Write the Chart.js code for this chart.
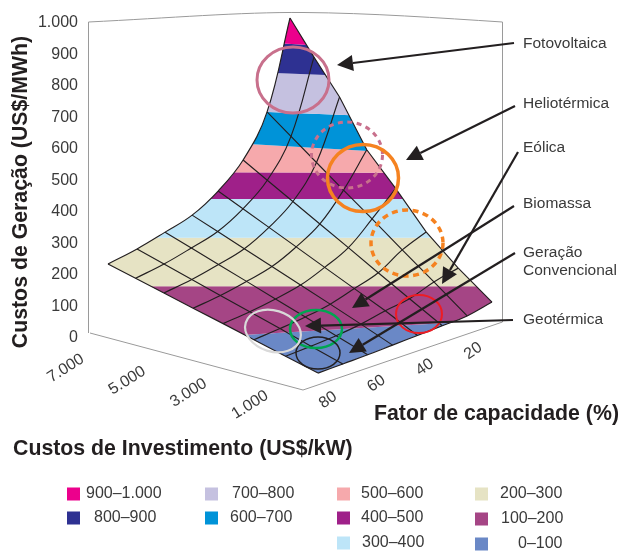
<!DOCTYPE html>
<html><head><meta charset="utf-8">
<style>html,body{margin:0;padding:0;background:#fff}canvas{display:block}</style>
<script src="https://cdn.jsdelivr.net/npm/chart.js@4"></script>
</head><body><canvas id="c" width="622" height="552"></canvas>
<script>
// --- data ---
const capacityFactors = [80, 70, 60, 50, 40, 30, 20, 10];
const investments = [0, 1000, 2000, 3000, 4000, 5000, 6000, 7000];
const costAt80 = [20, 56, 91, 124, 154, 184, 211, 237];
const costAt70 = [23, 63, 102, 138, 172, 204, 235, 264];
const costAt60 = [26, 71, 115, 156, 195, 231, 266, 298];
const costAt50 = [31, 84, 133, 178, 221, 261, 299, 333];
const costAt40 = [36, 104, 162, 216, 267, 314, 357, 397];
const costAt30 = [41, 119, 192, 262, 326, 385, 439, 489];
const costAt20 = [47, 153, 251, 345, 430, 510, 584, 651];
const costAt10 = [69, 175, 290, 435, 560, 743, 873, 1000];
const costRows = [costAt80, costAt70, costAt60, costAt50, costAt40, costAt30, costAt20, costAt10];

const bandLabels = ['0–100','100–200','200–300','300–400','400–500','500–600','600–700','700–800','800–900','900–1.000'];
const bandColors = ['#6a88c6','#a54585','#e6e3c4','#bde5f8','#9f2089','#f6a9ac','#0093d8','#c5c1e0','#2e3192','#ec008c'];
// painted colour steps as they sit against the vertical axis (left and right end of each step)
const bandStepsLeft  = [-16, 164, 318, 441, 527, 642, 737, 862, 968];
const bandStepsRight = [ 56, 164, 318, 441, 524, 571, 690, 814, 895];

const costTicks = [0,100,200,300,400,500,600,700,800,900,1000];
const investmentTicks = [7000, 5000, 3000, 1000];
const capacityTicks = [80, 60, 40, 20];
const sourceLabels = ['Fotovoltaica','Heliotérmica','Eólica','Biomassa','Geração','Convencional','Geotérmica'];

// --- view: oblique projection of the 3D box onto the chart's two scales ---
const viewBow = {80:20,70:20,60:22,50:25,40:30,30:35,20:38,10:40};
function project(cf, inv, cost){
  const s = inv/7000, t = (80-cf)/70;
  const x = 318 - 210*s + 174*t + 8*s*t + 25*s*t*(1-t) - viewBow[cf]*s*(1-s);
  const yPx = 378 - 56*s - 59*t - cost*0.245;
  return {x, y:(338-yPx)/0.315};
}
const INK = '#231f20', TXT = '#3a3a3a', WALL = '#9a9a9a', FONT = '"Liberation Sans", Arial, sans-serif';

const datasets = [];
// colour bands
bandLabels.forEach((label,i)=>{
  const loL = i===0 ? -300 : bandStepsLeft[i-1], loR = i===0 ? -300 : bandStepsRight[i-1];
  const hiL = i===9 ? 1100 : bandStepsLeft[i],   hiR = i===9 ? 1100 : bandStepsRight[i];
  datasets.push({label, kind:'band', order:10, showLine:false, pointRadius:0, backgroundColor:bandColors[i], clip:false,
    data:[{x:108,y:loL},{x:492,y:loR},{x:492,y:hiR},{x:108,y:hiL}]});
});
// mesh: lines of constant capacity factor
capacityFactors.forEach((cf,r)=>{
  datasets.push({label:'FC '+cf, kind:'cf', cf, order:5, showLine:true, pointRadius:0, borderColor:INK, borderWidth:1.15, tension:0, clip:false,
    data:investments.map((inv,c)=>project(cf,inv,costRows[r][c]))});
});
// mesh: lines of constant investment
investments.forEach((inv,c)=>{
  datasets.push({label:'Inv '+inv, kind:'inv', inv, order:5, showLine:true, pointRadius:0, borderColor:INK, borderWidth:1.15, tension:0.4, clip:false,
    data:capacityFactors.map((cf,r)=>project(cf,inv,costRows[r][c]))});
});

function metaOf(chart, pred){
  const i = chart.data.datasets.findIndex(pred);
  const m = chart.getDatasetMeta(i);
  m.dataset.updateControlPoints(chart.chartArea,'x');
  return m.data;
}
function seg(ctx,a,b,fwd){
  if(a.cp2x===undefined||b.cp1x===undefined){ctx.lineTo(b.x,b.y);return;}
  if(fwd) ctx.bezierCurveTo(a.cp2x,a.cp2y,b.cp1x,b.cp1y,b.x,b.y);
  else ctx.bezierCurveTo(a.cp1x,a.cp1y,b.cp2x,b.cp2y,b.x,b.y);
}
function outline(chart,ctx){
  const left = metaOf(chart,d=>d.kind==='inv'&&d.inv===7000);
  const back = metaOf(chart,d=>d.kind==='cf'&&d.cf===10);
  const right= metaOf(chart,d=>d.kind==='inv'&&d.inv===0);
  const front= metaOf(chart,d=>d.kind==='cf'&&d.cf===80);
  ctx.beginPath();
  ctx.moveTo(left[0].x,left[0].y);
  for(let i=0;i<left.length-1;i++) seg(ctx,left[i],left[i+1],true);
  for(let i=back.length-1;i>0;i--) ctx.lineTo(back[i-1].x,back[i-1].y);
  for(let i=right.length-1;i>0;i--) seg(ctx,right[i],right[i-1],false);
  for(let i=0;i<front.length-1;i++) ctx.lineTo(front[i+1].x,front[i+1].y);
  ctx.closePath();
}

const surfacePlugin = {
  id:'surface',
  beforeDatasetsDraw(chart){
    const ctx = chart.ctx;
    ctx.save();
    outline(chart,ctx);
    ctx.clip();
    chart.data.datasets.forEach((d,i)=>{
      if(d.kind!=='band') return;
      const p = chart.getDatasetMeta(i).data;
      ctx.beginPath();
      p.forEach((e,k)=>k?ctx.lineTo(e.x,e.y):ctx.moveTo(e.x,e.y));
      ctx.closePath();
      ctx.fillStyle = d.backgroundColor;
      ctx.fill();
    });
    ctx.restore();
  }
};

function text(ctx,str,x,y,font,color,align,rot){
  ctx.save();
  ctx.translate(x,y);
  if(rot) ctx.rotate(rot);
  ctx.font = font; ctx.fillStyle = color; ctx.textAlign = align||'left'; ctx.textBaseline='middle';
  ctx.fillText(str,0,0);
  ctx.restore();
}
function ring(ctx,cx,cy,rx,ry,color,lw,dash,rot){
  ctx.save();
  ctx.beginPath();
  ctx.ellipse(cx,cy,rx,ry,rot||0,0,Math.PI*2);
  ctx.strokeStyle=color; ctx.lineWidth=lw; ctx.setLineDash(dash||[]);
  ctx.stroke();
  ctx.restore();
}
function arrow(ctx,x0,y0,x1,y1){
  const a = Math.atan2(y1-y0,x1-x0), L=16, W=8;
  const bx=x1-L*Math.cos(a), by=y1-L*Math.sin(a);
  ctx.save();
  ctx.strokeStyle=INK; ctx.fillStyle=INK; ctx.lineWidth=2.2;
  ctx.beginPath(); ctx.moveTo(x0,y0); ctx.lineTo(bx,by); ctx.stroke();
  ctx.beginPath(); ctx.moveTo(x1,y1);
  ctx.lineTo(bx+W*Math.sin(a),by-W*Math.cos(a));
  ctx.lineTo(bx-W*Math.sin(a),by+W*Math.cos(a));
  ctx.closePath(); ctx.fill();
  ctx.restore();
}

const decorPlugin = {
  id:'decor',
  beforeDatasetsDraw(chart){
    // walls and floor of the 3D box
    const ctx = chart.ctx;
    ctx.save();
    ctx.strokeStyle=WALL; ctx.lineWidth=1;
    ctx.beginPath();
    ctx.moveTo(88.5,333); ctx.lineTo(88.5,22);
    ctx.bezierCurveTo(170,18,240,12,303,12.5);
    ctx.bezierCurveTo(370,13,440,18,502.5,22);
    ctx.lineTo(502.5,322); ctx.lineTo(303,390); ctx.lineTo(90,333);
    ctx.stroke();
    ctx.restore();
  },
  afterDatasetsDraw(chart){
    const ctx = chart.ctx;
    const rose='#c8708c', orange='#f58220';
    ring(ctx,293,80,36,33,rose,3);
    ring(ctx,347,155,35.5,33,rose,3,[5,4.5]);
    ring(ctx,363,178,35.5,33.5,orange,3.5);
    ring(ctx,407,243,36,33,orange,3.5,[6,4.5]);
    ring(ctx,419,314,23,19,'#ed1c24',2);
    ring(ctx,316,329,26,19,'#00a651',2.5);
    ring(ctx,318,353,22,16,'#231f20',1.5);
    ring(ctx,273,331,28.5,20.5,'#d9d9d9',2.2,null,0.3);

    arrow(ctx,514,43,337,65);
    arrow(ctx,515,106,406,160);
    arrow(ctx,518,152,442,284);
    arrow(ctx,514,206,352,308);
    arrow(ctx,515,253,349,353);
    arrow(ctx,513,320,305,326);

    const lf='15.5px '+FONT;
    const ly=[44,104,148,204,253,271,320];
    sourceLabels.forEach((s,i)=>text(ctx,s,523,ly[i],lf,TXT));

    const bold='bold 21.3px '+FONT;
    text(ctx,'Custos de Geração (US$/MWh)',21,192,bold,'#231f20','center',-Math.PI/2);
    text(ctx,'Fator de capacidade (%)',374,414,bold,'#231f20');
    text(ctx,'Custos de Investimento (US$/kW)',13,449,bold,'#231f20');

    const tf='16px '+FONT;
    investmentTicks.forEach(v=>{
      const k=(v-1000)/1000;
      text(ctx,(v/1000).toFixed(3),250-30.7*k,405-6.1*k,tf,TXT,'center',-0.56);
    });
    capacityTicks.forEach(v=>{
      const k=80-v;
      text(ctx,String(v),328+2.42*k,400-0.817*k,tf,TXT,'center',-0.6);
    });

    // legend
    const cells=[[9,67,86,494],[8,67,94,518],[7,205,232,494],[6,205,230,518],
                 [5,337,361,494],[4,337,361,518],[3,337,362,543],
                 [2,475,500,494],[1,475,501,519],[0,475,518,544]];
    cells.forEach(([b,sx,tx,y])=>{
      ctx.fillStyle=bandColors[b];
      ctx.fillRect(sx,y-6.5,13,13);
      text(ctx,bandLabels[b],tx,y,tf,TXT);
    });
  }
};

new Chart(document.getElementById('c'),{
  type:'scatter',
  data:{datasets},
  plugins:[decorPlugin,surfacePlugin],
  options:{
    responsive:false,
    animation:false,
    events:[],
    layout:{padding:{top:23,bottom:214,left:0,right:0}},
    elements:{line:{capBezierPoints:false}},
    plugins:{legend:{display:false},tooltip:{enabled:false}},
    scales:{
      x:{type:'linear',min:88,max:622,display:false},
      y:{type:'linear',min:0,max:1000,
         afterBuildTicks:s=>{s.ticks=costTicks.map(v=>({value:v}));},
         afterFit:s=>{s.width=88;},
         grid:{display:false},border:{display:false},
         ticks:{padding:2,autoSkip:false,color:TXT,font:{family:'Liberation Sans',size:16},
                callback:v=>v===1000?'1.000':String(v)}}
    }
  }
});
</script></body></html>
